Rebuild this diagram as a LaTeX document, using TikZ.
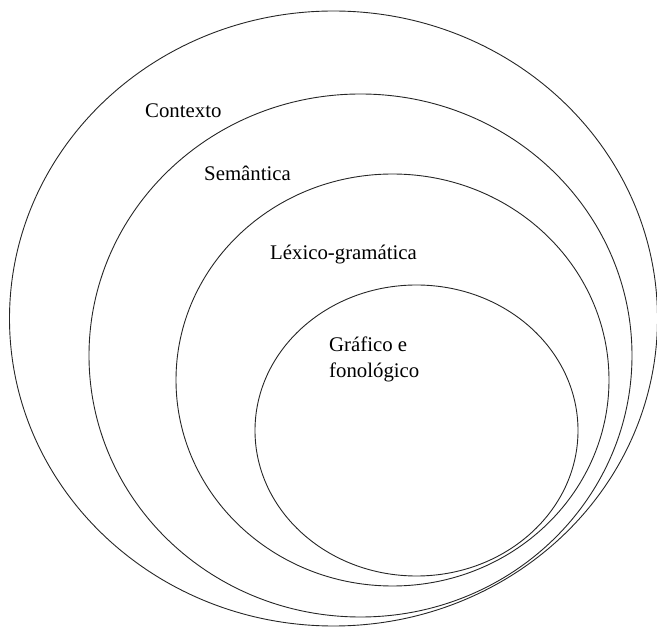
\documentclass[tikz,border=0pt]{standalone}
\usepackage{fontspec}
\setmainfont{Liberation Serif}
\begin{document}
\begin{tikzpicture}[x=1pt,y=-1pt,
  ring/.style={draw=black!85,line width=0.9pt},
  lbl/.style={anchor=base west,inner sep=0pt,font=\fontsize{20.8}{26}\selectfont}]
\useasboundingbox (0,0) rectangle (657,628);
\draw[ring] (333.5,318.5) ellipse [x radius=324, y radius=307.5];
\draw[ring] (360.5,355.5) ellipse [x radius=271.5, y radius=261.5];
\draw[ring] (392.5,380) ellipse [x radius=216.5, y radius=206];
\draw[ring] (416.5,430.5) ellipse [x radius=161.5, y radius=145.5];
\node[lbl] (ctx) at (145,118) {Contexto};
\node[lbl] (sem) at (204,181) {Semântica};
\node[lbl] (lex) at (270,260) {Léxico-gramática};
\node[lbl] (gra) at (329,352) {Gráfico e};
\node[lbl] (fon) at (329,378) {fonológico};
\end{tikzpicture}
\end{document}
